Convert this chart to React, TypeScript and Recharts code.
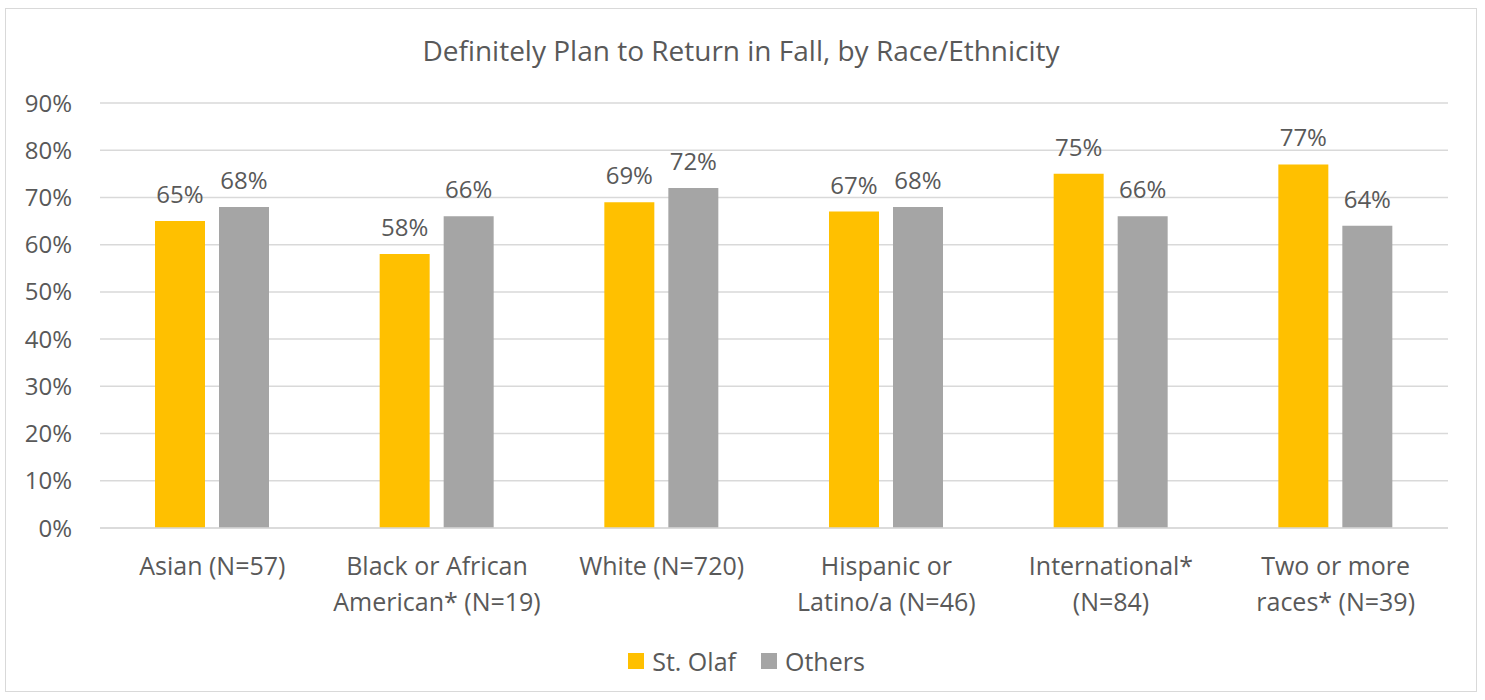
import React from "react";
import { BarChart, Bar, XAxis, YAxis, CartesianGrid, Legend, LabelList } from "recharts";

const categories = [
  "Asian (N=57)",
  "Black or African\nAmerican* (N=19)",
  "White (N=720)",
  "Hispanic or\nLatino/a (N=46)",
  "International*\n(N=84)",
  "Two or more\nraces* (N=39)",
];
const stOlaf = [65, 58, 69, 67, 75, 77];
const others = [68, 66, 72, 68, 66, 64];
const yTicks = [0, 10, 20, 30, 40, 50, 60, 70, 80, 90];
const seriesOrder = ["St. Olaf", "Others"];

const data = categories.map((c, i) => ({ category: c, stOlaf: stOlaf[i], others: others[i] }));

const FONT = "'Open Sans', sans-serif";
const TEXT = "#595959";

const CategoryTick = (props: any) => {
  const { x, y, payload } = props;
  const lines = String(payload.value).split("\n");
  return (
    <text x={x} y={y} textAnchor="middle" fill={TEXT} fontSize={25} fontFamily={FONT}>
      {lines.map((l: string, i: number) => (
        <tspan key={i} x={x} dy={i === 0 ? 47 : 36}>
          {l}
        </tspan>
      ))}
    </text>
  );
};

const LegendContent = (props: any) => {
  const payload = [...(props.payload || [])].sort(
    (a: any, b: any) => seriesOrder.indexOf(a.value) - seriesOrder.indexOf(b.value)
  );
  return (
    <div style={{ display: "flex", justifyContent: "center", alignItems: "center", fontFamily: FONT, fontSize: 25, color: TEXT, lineHeight: "34px" }}>
      {payload.map((p: any, i: number) => (
        <div key={i} style={{ display: "flex", alignItems: "center", marginRight: i === payload.length - 1 ? 0 : 25 }}>
          <div style={{ width: 16, height: 16, background: p.color, marginRight: 8 }} />
          <span>{p.value}</span>
        </div>
      ))}
    </div>
  );
};

export default function App() {
  return (
    <div
      style={{
        position: "absolute",
        left: 5,
        top: 8,
        width: 1472,
        height: 684,
        border: "1px solid #d9d9d9",
        background: "#fff",
        boxSizing: "border-box",
      }}
    >
      <div
        style={{
          position: "absolute",
          left: 0,
          width: "100%",
          top: 22,
          textAlign: "center",
          fontFamily: FONT,
          fontSize: 28,
          color: TEXT,
          lineHeight: "38px",
        }}
      >
        Definitely Plan to Return in Fall, by Race/Ethnicity
      </div>
      <BarChart
        width={1470}
        height={682}
        data={data}
        margin={{ top: 94, right: 28, bottom: 99, left: 0 }}
        barGap={14}
        barSize={50}
      >
        <CartesianGrid vertical={false} stroke="#d9d9d9" strokeWidth={1.5} />
        <XAxis
          dataKey="category"
          interval={0}
          tickLine={false}
          tickSize={0}
          tickMargin={0}
          axisLine={{ stroke: "#d9d9d9", strokeWidth: 1.5 }}
          tick={<CategoryTick />}
        />
        <YAxis
          width={94}
          domain={[0, 90]}
          ticks={yTicks}
          tickFormatter={(v: number) => `${v}%`}
          axisLine={false}
          tickLine={false}
          tickSize={0}
          tickMargin={28}
          tick={{ fill: TEXT, fontSize: 24, fontFamily: FONT }}
        />
        <Legend
          verticalAlign="bottom"
          wrapperStyle={{ bottom: 13, left: 0, width: 1481 }}
          content={<LegendContent />}
        />
        <Bar dataKey="stOlaf" name="St. Olaf" fill="#FFC000" isAnimationActive={false}>
          <LabelList
            dataKey="stOlaf"
            position="top"
            offset={18}
            formatter={(v: any) => `${v}%`}
            fill={TEXT}
            fontSize={24}
            fontFamily={FONT}
          />
        </Bar>
        <Bar dataKey="others" name="Others" fill="#A5A5A5" isAnimationActive={false}>
          <LabelList
            dataKey="others"
            position="top"
            offset={18}
            formatter={(v: any) => `${v}%`}
            fill={TEXT}
            fontSize={24}
            fontFamily={FONT}
          />
        </Bar>
      </BarChart>
    </div>
  );
}
